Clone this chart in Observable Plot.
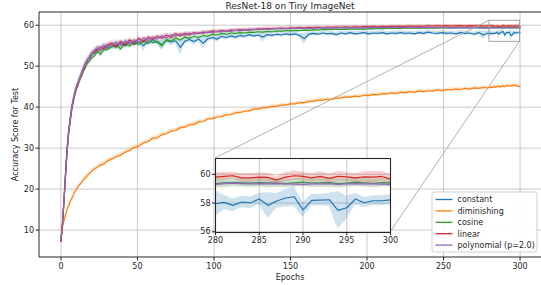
<!DOCTYPE html>
<html><head><meta charset="utf-8">
<script src="https://cdn.jsdelivr.net/npm/d3@7"></script>
<script src="https://cdn.jsdelivr.net/npm/@observablehq/plot@0.6"></script>
<style>
html,body{margin:0;padding:0;background:#fff;overflow:hidden}
#wrap{position:relative;width:541px;height:285px;overflow:hidden}
#wrap svg{position:absolute;font-family:"DejaVu Sans",sans-serif}
</style></head><body><div id="wrap"></div>
<script>
const title = "ResNet-18 on Tiny ImageNet";
const xLabel = "Epochs";
const yLabel = "Accuracy Score for Test";
const names = ["constant","diminishing","cosine","linear","polynomial (p=2.0)"];
const colors = ["#1f77b4","#ff7f0e","#2ca02c","#d62728","#9467bd"];
const xTicks = [0,50,100,150,200,250,300];
const yTicks = [10,20,30,40,50,60];
const insetXTicks = [280,285,290,295,300];
const insetYTicks = [56,58,60];
const insetXDomain = [280,300];
const insetYDomain = [55.95,61.1];

const epochs = [
0,1,2,3,4,5,6,7,8,9,10,11,12,13,14,15,16,17,18,19,20,
22,24,26,28,30,
33,36,39,42,45,48,51,54,57,60,
63,66,69,72,75,78,81,84,87,90,
93,96,99,102,105,108,111,114,117,120,
123,126,129,132,135,138,141,144,147,150,
153,156,159,162,165,168,171,174,177,180,
183,186,189,192,195,198,201,204,207,210,
213,216,219,222,225,228,231,234,237,240,
243,246,249,252,255,258,261,264,267,270,
273,276,279,
280,281,282,283,284,285,286,287,288,289,290,291,292,293,294,295,296,297,298,299,300];

const constant = [
7.4,11.4,17.2,23.8,29.6,33.9,36.8,39.8,41.6,43.5,44.5,45.6,46.9,47.6,48.4,49.6,50.5,50.9,51.8,52.1,52.9,
53.2,54.3,53.8,54.9,54.4,
55.1,54.6,55.5,55.0,55.8,55.3,56.0,55.0,56.2,55.8,
56.0,55.2,56.3,55.9,56.2,54.6,56.1,56.5,56.0,56.6,
55.6,56.7,57.0,56.6,57.3,57.0,57.4,57.1,57.5,57.3,
57.7,57.4,57.6,57.1,57.7,57.5,57.8,57.6,57.9,57.7,
57.9,57.5,56.7,57.8,58.0,57.8,58.1,57.9,58.0,57.7,
58.1,57.9,58.2,57.9,58.0,58.2,57.9,58.1,58.0,58.2,
57.9,58.1,58.0,58.2,58.0,58.1,57.9,58.2,58.0,58.3,
58.1,58.0,58.2,58.0,58.1,57.9,58.2,58.0,58.1,57.8,
58.2,57.6,58.1,
57.95,58.05,57.84,58.07,58.02,58.28,57.84,58.14,58.35,58.44,57.53,58.19,58.21,58.23,57.49,57.67,58.28,58.02,58.16,58.16,58.23];

const diminishing = [
7.3,10.5,12.3,13.6,15.0,15.8,16.9,17.6,18.4,19.3,19.9,20.4,21.0,21.3,21.9,22.4,22.7,23.1,23.6,23.9,24.4,
24.9,25.4,25.9,26.1,26.8,
27.3,27.9,28.3,29.0,29.5,30.2,30.5,31.3,31.6,32.4,
32.5,33.3,33.5,34.2,34.3,35.0,35.1,35.7,35.8,36.4,
36.5,37.1,37.2,37.6,37.7,38.1,38.2,38.6,38.7,39.0,
39.1,39.5,39.5,39.9,39.9,40.2,40.2,40.5,40.5,40.8,
40.8,41.1,41.1,41.4,41.4,41.7,41.7,41.9,41.9,42.2,
42.2,42.5,42.4,42.7,42.6,42.9,42.8,43.1,43.0,43.3,
43.2,43.5,43.3,43.6,43.5,43.8,43.6,43.9,43.8,44.0,
43.9,44.2,44.0,44.3,44.2,44.4,44.3,44.6,44.4,44.7,
44.6,44.8,44.7,
44.8,44.9,44.8,45.0,44.9,45.0,45.1,44.9,45.1,45.2,45.0,45.2,45.3,45.1,45.3,45.2,45.4,45.3,45.2,45.1,45.0];

const cosine = [
7.5,11.3,16.9,23.0,28.8,33.2,36.2,39.0,41.2,42.7,44.2,45.3,46.2,47.2,48.0,49.0,49.6,50.5,51.0,51.3,52.0,
52.6,53.6,52.9,54.0,54.1,
54.6,55.3,54.2,55.6,54.9,56.0,55.3,56.2,55.5,56.5,
55.9,55.0,56.5,56.1,56.9,56.4,57.1,56.8,57.3,57.0,
57.5,57.3,57.8,57.6,58.0,57.8,58.1,58.0,58.2,58.1,
58.3,58.25,58.4,58.3,58.5,58.4,58.6,58.5,58.7,58.6,
58.75,58.7,58.8,58.75,58.9,58.8,58.95,58.9,59.0,58.95,
59.05,59.0,59.1,59.05,59.1,59.05,59.15,59.1,59.2,59.15,
59.2,59.2,59.25,59.2,59.3,59.25,59.3,59.3,59.35,59.3,
59.35,59.3,59.4,59.35,59.4,59.35,59.4,59.4,59.45,59.4,
59.4,59.45,59.4,
59.35,59.4,59.42,59.4,59.38,59.42,59.4,59.38,59.35,59.4,59.45,59.38,59.4,59.42,59.35,59.38,59.45,59.4,59.35,59.42,59.4];

const linear = [
7.2,11.2,17.3,23.5,29.5,33.8,36.9,39.6,41.4,43.2,44.6,45.2,46.8,47.3,48.9,49.2,50.8,51.1,51.9,52.0,53.1,
53.4,54.0,54.6,54.2,55.1,
55.6,54.8,56.0,55.2,56.4,55.5,56.8,55.9,57.1,56.5,
57.3,56.8,57.6,57.0,57.9,57.4,58.0,57.6,58.2,57.9,
58.3,58.2,58.6,58.4,58.7,58.5,58.8,58.7,58.9,58.8,
59.0,58.9,59.1,59.0,59.2,59.1,59.2,59.3,59.2,59.35,
59.3,59.4,59.3,59.45,59.4,59.5,59.4,59.5,59.45,59.55,
59.5,59.6,59.5,59.6,59.55,59.65,59.6,59.7,59.6,59.7,
59.65,59.75,59.7,59.75,59.7,59.8,59.75,59.8,59.75,59.85,
59.8,59.85,59.8,59.9,59.8,59.85,59.9,59.8,59.9,59.85,
59.9,59.8,59.85,
59.8,59.85,59.9,59.75,59.75,59.8,59.78,59.6,59.8,59.9,59.85,59.75,59.85,59.72,59.85,59.82,59.75,59.82,59.8,59.85,59.68];

const polynomial = [
7.6,11.6,17.0,23.2,29.0,33.5,36.5,39.3,41.8,43.0,44.9,45.8,46.4,47.9,48.6,49.9,50.2,51.4,51.5,52.6,52.8,
53.9,54.5,54.0,55.0,54.8,
55.0,55.9,55.1,56.2,55.5,56.4,55.9,56.9,56.3,57.1,
56.7,57.4,56.9,57.7,57.3,57.9,57.5,58.1,57.8,58.2,
58.0,58.4,58.2,58.5,58.4,58.6,58.5,58.8,58.6,58.9,
58.8,59.0,58.9,59.1,59.0,59.1,59.2,59.1,59.2,59.15,
59.25,59.2,59.3,59.2,59.3,59.25,59.35,59.3,59.35,59.3,
59.4,59.3,59.4,59.35,59.4,59.35,59.45,59.4,59.4,59.45,
59.4,59.45,59.4,59.45,59.4,59.4,59.45,59.4,59.4,59.45,
59.4,59.35,59.4,59.4,59.35,59.4,59.35,59.4,59.35,59.4,
59.35,59.3,59.35,
59.3,59.35,59.38,59.35,59.33,59.35,59.33,59.35,59.33,59.32,59.3,59.33,59.33,59.35,59.3,59.33,59.35,59.33,59.33,59.32,59.3];

// spread (std) of each run, in tenths of a point
const sdConstant = [
3,6,8,9,9,8,8,7,7,6,6,7,6,7,7,6,7,6,7,8,7,
8,7,9,8,7,
8,7,8,7,8,7,7,14,8,7,
7,14,7,8,7,18,8,7,8,7,
14,7,6,7,6,6,6,6,6,6,
5,5,5,12,5,5,5,5,5,5,
5,5,14,5,5,5,5,5,6,5,
5,5,5,5,5,5,5,5,5,5,
5,5,5,5,5,5,5,5,5,5,
5,5,5,5,5,5,5,5,5,5,
5,10,5,
9,5,4.5,4,4,4,9,5,6,7,5,4,4,4.5,13,8,4,3.5,3.5,3.5,3.5];
const sdDiminishing = [
6,6,5,5,5,5,5,5,5,5,5,5,5,5,5,5,5,5,5,5,5,
5,5,5,5,5,
5,5,5,5,5,5,5,5,5,5,
5,5,5,5,5,5,5,5,5,5,
4,4,4,4,4,4,4,4,4,4,
4,4,4,4,4,4,4,4,4,4,
4,4,4,4,4,4,4,4,4,4,
4,4,4,4,4,4,4,4,4,4,
4,4,4,4,4,4,4,4,4,4,
4,4,4,4,4,4,4,4,4,4,
4,4,4,
4,4,4,4,4,4,4,4,4,4,4,4,4,4,4,4,4,4,4,4,4];
const sdCosine = [
3,6,8,8,8,7,7,6,6,6,6,6,6,6,6,6,6,6,6,6,6,
7,6,8,6,7,
7,6,8,6,7,6,6,6,6,6,
6,9,6,6,6,5,5,5,5,5,
5,5,5,5,4,4,4,4,4,4,
4,4,4,4,4,4,4,4,4,4,
4,4,4,4,3,3,3,3,3,3,
3,3,3,3,3,3,3,3,3,3,
3,3,3,3,3,3,3,3,3,3,
3,3,3,3,3,3,3,3,3,3,
3,3,3,
3,3.5,3,3,3,3,3.5,3,3,3,3,3,3,3.5,3,3,3,3,3,3,3];
const sdLinear = [
3,6,8,8,8,7,7,6,6,6,6,6,6,6,6,6,6,6,6,6,6,
7,6,7,6,6,
6,6,6,6,6,6,5,5,5,5,
5,5,5,5,5,5,5,5,4,4,
4,4,4,4,4,4,4,4,4,4,
4,4,4,4,4,4,4,4,4,4,
3,3,3,3,3,3,3,3,3,3,
3,3,3,3,3,3,3,3,3,3,
3,3,3,3,3,3,3,3,3,3,
3,3,3,3,3,3,3,3,3,3,
3,3,3,
3,3,2.5,3,3,3,3,2.5,3,3.5,3,3,3.5,3,3.5,3,3,3.5,4,3.5,3];
const sdPolynomial = [
3,6,8,8,8,7,7,6,6,6,6,6,6,6,6,6,6,6,6,6,6,
7,6,7,6,6,
6,6,6,6,6,6,5,5,5,5,
5,5,5,5,5,5,5,5,4,4,
4,4,4,4,4,4,4,4,4,4,
3,3,3,3,3,3,3,3,3,3,
3,3,3,3,3,3,3,3,3,3,
2,2,2,2,2,2,2,2,2,2,
2,2,2,2,2,2,2,2,2,2,
2,2,2,2,2,2,2,2,2,2,
2,2,2,
1.5,1.5,1.5,1.5,1.5,1.5,1.5,1.5,1.5,1.5,1.5,1.5,1.5,1.5,1.5,1.5,1.5,1.5,1.5,1.5,1.5];

const means = [constant, diminishing, cosine, linear, polynomial];
const spreads = [sdConstant, sdDiminishing, sdCosine, sdLinear, sdPolynomial];
means.forEach((m, k) => {
  if (m.length !== epochs.length || spreads[k].length !== epochs.length)
    throw new Error(`length ${names[k]}: ${m.length}/${spreads[k].length} vs ${epochs.length}`);
});
const rows = [];
names.forEach((name, k) => epochs.forEach((e, i) => {
  const v = means[k][i], s = spreads[k][i] / 10;
  rows.push({name, epoch: e, v, lo: v - s, hi: v + s});
}));

const W = 541, H = 285;
const font = "DejaVu Sans, sans-serif";
const ink = "#262626";
const gridStyle = {stroke: "#b0b0b0", strokeOpacity: 0.75, strokeWidth: 0.9};

function seriesMarks(filter) {
  return names.flatMap((name, k) => filter(name) ? [
    Plot.areaY(rows, {filter: d => d.name === name && filter(name, d), x: "epoch", y1: "lo", y2: "hi", fill: colors[k], fillOpacity: 0.22}),
    Plot.lineY(rows, {filter: d => d.name === name && filter(name, d), x: "epoch", y: "v", stroke: colors[k], strokeWidth: 1.2})
  ] : []);
}

const zoomBox = [{x1: insetXDomain[0], x2: insetXDomain[1], y1: insetYDomain[0], y2: insetYDomain[1]}];

const main = Plot.plot({
  width: W, height: H,
  marginLeft: 39, marginRight: 0, marginTop: 12, marginBottom: 28,
  style: {fontFamily: font, fontSize: "8px", color: ink, background: "transparent"},
  x: {domain: [-14, 314]},
  y: {domain: [3.3, 63.1]},
  marks: [
    Plot.gridX({ticks: xTicks, ...gridStyle}),
    Plot.gridY({ticks: yTicks, ...gridStyle}),
    ...seriesMarks(() => true),
    Plot.rect(zoomBox, {x1: "x1", x2: "x2", y1: "y1", y2: "y2", fill: "none", stroke: "#9a9a9a", strokeWidth: 0.9}),
    Plot.axisX({ticks: xTicks, tickSize: 3.5, tickPadding: 2, tickFormat: d => String(d), label: null, stroke: ink, fill: ink}),
    Plot.axisY({ticks: yTicks, tickSize: 3.5, tickPadding: 2, tickFormat: d => String(d), label: null, stroke: ink, fill: ink})
  ]
});
main.style.left = "0px"; main.style.top = "0px";
document.getElementById("wrap").appendChild(main);

// inset layout (pixels)
const inset = {left: 215, top: 158, right: 390, bottom: 232};
const iM = {l: 25, r: 14, t: 3, b: 14};
const insetPlot = Plot.plot({
  width: iM.l + (inset.right - inset.left) + iM.r,
  height: iM.t + (inset.bottom - inset.top) + iM.b,
  marginLeft: iM.l, marginRight: iM.r, marginTop: iM.t, marginBottom: iM.b,
  style: {fontFamily: font, fontSize: "8px", color: ink, background: "transparent"},
  x: {domain: insetXDomain},
  y: {domain: insetYDomain},
  clip: true,
  marks: [
    Plot.frame({fill: "white", stroke: "none"}),
    Plot.gridX({ticks: insetXTicks, ...gridStyle}),
    Plot.gridY({ticks: insetYTicks, ...gridStyle}),
    ...seriesMarks((name, d) => name !== "diminishing" && (!d || d.epoch >= insetXDomain[0])),
    Plot.frame({stroke: ink, strokeWidth: 1.1}),
    Plot.axisX({ticks: insetXTicks, tickSize: 3, tickPadding: 2, tickFormat: d => String(d), label: null, stroke: ink, fill: ink}),
    Plot.axisY({ticks: insetYTicks, tickSize: 3, tickPadding: 2, tickFormat: d => String(d), label: null, stroke: ink, fill: ink})
  ]
});
insetPlot.style.left = (inset.left - iM.l) + "px";
insetPlot.style.top = (inset.top - iM.t) + "px";
document.getElementById("wrap").appendChild(insetPlot);

// decorations on the main svg
const sx = main.scale("x"), sy = main.scale("y");
const svg = d3.select(main);
const conn = svg.append("g").attr("stroke", "#a8a8a8").attr("stroke-width", 0.9);
conn.append("line").attr("x1", sx.apply(insetXDomain[0])).attr("y1", sy.apply(insetYDomain[1])).attr("x2", inset.left).attr("y2", inset.top);
conn.append("line").attr("x1", sx.apply(insetXDomain[1])).attr("y1", sy.apply(insetYDomain[0])).attr("x2", inset.right).attr("y2", inset.bottom);
const L = 39, T = 12, B = H - 28;
const sp = svg.append("g").attr("stroke", ink).attr("stroke-width", 1);
sp.append("line").attr("x1", L).attr("x2", L).attr("y1", T).attr("y2", B);
sp.append("line").attr("x1", L).attr("x2", W).attr("y1", T).attr("y2", T);
sp.append("line").attr("x1", L).attr("x2", W).attr("y1", B).attr("y2", B);
svg.append("text").attr("x", 290).attr("y", 8.6).attr("text-anchor", "middle").attr("font-size", 9).attr("fill", ink).text(title);
svg.append("text").attr("x", 290).attr("y", 279.5).attr("text-anchor", "middle").attr("font-size", 8).attr("fill", ink).text(xLabel);
svg.append("text").attr("transform", "translate(18,134.5) rotate(-90)").attr("text-anchor", "middle").attr("font-size", 8).attr("fill", ink).text(yLabel);
const lg = svg.append("g").attr("text-anchor", "start");
lg.append("rect").attr("x", 432).attr("y", 192).attr("width", 105).attr("height", 60).attr("rx", 2.5)
  .attr("fill", "white").attr("fill-opacity", 0.85).attr("stroke", "#cccccc").attr("stroke-width", 0.9);
names.forEach((name, k) => {
  const y = 199.5 + k * 11.4;
  lg.append("line").attr("x1", 435.5).attr("x2", 452.5).attr("y1", y).attr("y2", y).attr("stroke", colors[k]).attr("stroke-width", 1.3);
  lg.append("text").attr("x", 457.5).attr("y", y + 2.9).attr("text-anchor", "start").attr("font-size", 8).attr("fill", ink).text(name);
});
</script></body></html>
